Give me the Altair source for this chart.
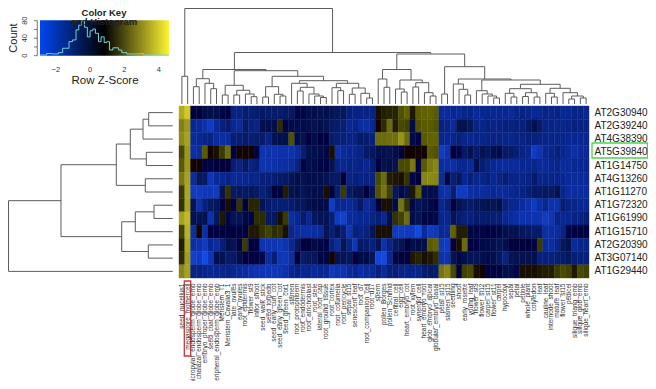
import json
import altair as alt
import pandas as pd

row_names = ["AT2G30940","AT2G39240","AT4G38390","AT5G39840","AT1G14750","AT4G13260","AT1G11270",
             "AT1G72320","AT1G61990","AT1G15710","AT2G20390","AT3G07140","AT1G29440"]
col_names = ["seed_nucellus1","megaspore_mothercell","micropylar_endosperm_globe_emb","chalazal_endosperm_globe_emb",
 "embryo_proper_globe_emb","seed_coat_globe_emb","peripheral_endosperm_globe_emb","Meristem_T1","Meristem_Cavalia3_1",
 "late_ovules","early_ovules","root_epidermis","flower_st9","inflor_shoot","seed_walk_stick","seed_torpedo",
 "seed_early_curl_cot","seed_early_green_cot","seed_green_cot1","stamen","root_protophloem","root_endodermis",
 "root_atrichoblast","root_stele","lateral_root_cap","root_ground_tissue","root_cortex","root_columella","root_pericycle",
 "sepal_st15","senescent_leaf","root_d7","root_companion_cell","root_d17","sperm","pollen_Borges","pollen_Schmid",
 "central_cell","egg_cell","heart_embryo_cot","root_xylem","synergid_cell","heart_embryo_root","glob_embryo_apical",
 "globular_embryo_basal","petal_st15","stamen_st15","seedling","shoot","early_rosette","young_leaf","flower_st9",
 "flower_st12","carpel_st15","flower_st11","carpel","hypocotyl","sepal","petal","petiole","whole_plant","cotyledon",
 "leaf","cauline_leaf","internode_shoot","mature_leaf","flower_st15","pedicel","silique_triang_emb","silique_glob_emb",
 "silique_heart_emb"]

r0 = [3.4,4.0, 0.6,0.6,0,-0.1,-0.2,0.2,0.4, -1,-1,-0.8,-0.8,-0.7, -0.6,-0.7,-0.7,-0.7,-0.6,-0.6, 0.2,0.2, -0.2,-0.2,-0.3,-0.2, -0.4,-0.5,-0.5, -0.9,-1,-1,-1,-1,
      0.8,1.0,1.1,1.1,1.7,1.9,0.9,1.8,1.9,1.9,1.8,
      -1.3,-1.3,-1.2,-1.3,-1.1,-1.0,-1.3,-1.2,-1.1,-1.2,-1.2,-1.2,-1.3,-1.1,-1,-1.1,-1.2,-1.2,-1.0,-1.1,-1.0,-1.2,-1.2,-1.0,-1.1,-1.2]
r1 = [2.5,3.0, -1.2,-1.3,-1.6,-2.0,-1.3,-0.9,-0.7, -1.2,-1.3,-0.7,-0.9,-1.0, -0.2,-0.2,-0.1,1.2,0.3,0.0, 0,0, -0.2,-0.3,-0.2,-0.3, -0.6,-0.7,-0.8, -1.2,-1.1,-1.4,-1.5,-1.2,
      0.7,1.2,2.0,1.0,1.6,1.5,0.0,1.7,1.8,1.8,1.7,
      -0.9,-1.0,-1.3,-0.3,-0.3,-0.5,-1.0,-1.1,-0.9,-1,-1,-0.9,-0.9,-0.9,-0.9,-0.6,-0.2,-0.7,-1,-1,-1.1,-1.1,-1,-0.9,-1,-1]
r2 = [2.7,3.2, -1.3,-1.2,-1,-1,-1.4,-1.5,-1.4, -0.8,-0.8,-0.7,-0.8,-0.7, -0.7,-1,-0.3,-0.2,-0.2,1.7, 0,-0.3, 0.4,-0.1,0.4,0.4, -0.7,-0.8,-0.9, -1,-1,-0.6,-0.7,-0.9,
      2.0,2.0,2.1,2.1,2.9,2.0,0,0.3,1.8,1.9,1.9,
      -1.1,-1.2,-1.1,-0.9,-1.1,-1.2,-1.1,-1.1,-1,-1,-1,-1.1,-1.1,-1,-1,-0.9,-0.9,-1,-1.1,-1.1,-1.1,-1.1,-1.2,-1.2,-1.2,-1.2]
r3 = [1.6,3.0, -1.5,-1.4,1.8,0.7,0.8,1.4,2.0, 0.6,0.7,0.7,0.7,0.5, -1.7,-1.7,-1.7,-1.6,-1.6,-1.7, -1.4,-0.8, -0.2,-0.2,0,0.2, 0.8,-1.6,-1.3, -1.2,-1.2,-1,-0.6,-0.5,
      -0.2,-0.2,-0.3,-0.1,0.4,0.7,0.7,0.7,0.7,1.8,1.7,
      -2.0,-1.7,0.5,0.2,-0.6,-0.3,-0.7,-0.3,-0.5,-0.2,0,-0.6,-0.6,-0.8,-1.0,-1.1,-2.1,-1.7,-1.2,-1.1,-0.9,-1.1,-1.3,-1.5,-1.3,-1.3]
r4 = [1.8,3.0, 0.7,0.7,0.4,0.3,0.5,0.6,0.6, -0.8,-1,-0.6,-1,-0.8, -1.7,-1.7,-1.6,-1.5,-1.5,-1.4, -1.0,0.2, -0.2,0,0.2,0.3, -0.3,-1.0,-1.2, -1.1,-1.1,-1,-1.2,-0.8,
      0.4,-0.3,-0.1,-0.3,1.6,1.6,2.3,0.4,1.8,2.3,2.6,
      -1.4,-1.5,-1.5,-1.2,-1.2,-1.3,-0.2,-0.8,-1.0,-1.2,-1.3,-1.4,-1.3,-1.3,-1.2,-1.2,-1.1,-1.3,-1.3,-1.2,-1.1,-1.3,-1.3,-1.2,-1.2,-1.2]
r5 = [2.3,3.2, -1.4,-0.5,-0.6,-1.8,-1.3,-1.2,-1.0, -1.3,-1.2,-1.2,-1.1,-1.1, -0.9,-0.9,-0.8,-0.7,-0.6,-0.4, -0.2,-0.3, -0.1,-0.2,-0.2,-0.3, -0.6,-0.6,0.6, -1,-0.9,-1,-1,-1.0,
      1.6,2.0,1.0,0.9,0.8,1.3,0.2,0.4,2.6,2.7,2.6,
      -1.4,0.1,-0.8,-0.5,-1.2,-0.9,-1.1,-1.1,-0.9,-1.2,-1,-0.8,-1,-1.1,-1.1,-1,-0.7,-1.1,-1.1,-1.1,-1.1,-1.2,-1.3,-1.4,-1.3,-1.3]
r6 = [1.4,3.3, -2,-2,-1.9,-1.9,-2,-0.3,1.3, -0.6,-0.5,-0.6,-0.5,-0.6, -0.9,-0.6,0.5,0.5,1.0,-0.3, -0.2,-0.4, -0.2,-0.1,-0.1,0.8, 0.5,-0.8,1.4, -0.6,-0.4,-0.3,0.5,-0.4,
      1.7,2.2,1.5,-0.5,0.1,-0.3,0.9,1.9,-0.1,0,-0.2,
      -1.5,-1.6,-0.8,-2,-2.0,-1.5,-1.4,-1.4,-1.3,-1.2,-1.3,-1.3,-1.2,-1.1,-1.0,-0.8,-0.6,-0.6,-0.5,-0.6,-0.3,-1.1,-1.4,-1.4,-1.4,-1.4]
r7 = [1.3,3.2, -0.4,-1.6,-0.9,-0.6,-0.5,0.5,0.8, 0.4,1.3,0.6,1.1,1.1, -0.4,-0.7,-0.8,-0.8,-0.8,-0.7, -0.5,-0.5, -0.2,0,0.1,0.0, -2.1,-1.2,-1.2, -1.3,-1.1,-0.6,-1.3,-1.0,
      0.5,0.8,0.8,0,2.2,1.3,0.1,-0.4,-0.2,0.1,0.3,
      -1.2,-0.9,0.3,-0.3,-0.6,-0.7,-0.5,-0.4,-0.3,-0.4,-0.2,-0.9,-1.1,-1.2,-1.4,-1.6,-2.0,-1.5,-1.2,-1.6,-1.6,-0.8,-1.0,-1.1,-1.2,-1.2]
r8 = [3.2,3.7, -0.3,-0.4,-0.3,-1.6,-0.5,0.9,0.2, -0.4,-0.4,0.1,0.3,1.2, 1.2,-0.6,-0.5,0.8,1.4,-1.5, -1.2,-0.7, -1.2,-0.5,-0.4,-0.4, -0.8,-2.1,-2.3, -1.4,-1.3,-1.2,-1.2,-1.0,
      -0.8,-1.2,-0.2,1.3,1.5,2.0,-0.1,-0.4,0.2,0.2,0.1,
      -1.1,-1.2,-0.4,-0.7,-0.9,-0.9,-0.7,-0.7,-0.7,-0.8,-0.8,-1.2,-1.3,-1.5,-1.7,-1.6,-1.7,-1.7,-2.0,-1.8,-1.1,-1.2,-1.2,-1.0,-1.0,-0.8]
r9 = [1.5,3.5, -1.5,0.7,-1.5,0.5,0.5,0.4,0.5, 0.4,0.3,0.5,0.9,0.9, 1.3,1.5,1.2,1.3,0.8,-1.1, -1.4,-1.5, -1.5,-1.4,-1.3,-0.4, -0.8,-0.4,-0.8, -1.8,-0.9,-1.0,-0.9,-0.4,
      0.8,0.8,0.8,-2,-2.1,-2,-2,-2.6,-1.3,-2.0,-1.9,
      -1.2,-1.3,1.9,1.0,1.0,0.2,0.2,0.2,0.4,0.3,0.2,-0.2,-0.3,-0.3,-0.5,-0.6,-0.7,-0.7,-1.5,-1.5,-1.4,-1.0,0.2,0.4,0.4,0.4]
r10 = [1.0,3.3, -1.5,-1.6,-2,-1.2,-1.4,-0.8,-0.2, -0.4,0.3,1.4,0.5,0.5, -1.7,-1.8,-1.8,-1.9,-1.7,-1.2, -0.6,0.4, 0.6,0,0.2,0.3, -0.9,-1.4,-0.4, -1.0,-1.8,-0.6,-0.7,-0.9,
       -0.4,-1.6,-1.0,-0.6,-0.4,0.3,-0.2,0,-0.1,1.8,1.9,
       -1.9,-2.1,0.6,0.8,2.0,0.4,0.3,0.1,0,-0.2,-0.4,-0.2,0.4,0.5,0.6,0.4,0.3,1.4,-1.3,-1.5,-1.1,-0.5,-0.3,-1.3,-1.1,-1.1]
r11 = [1.2,3.1, -2.2,-2.0,-2.7,-1.8,-0.2,-0.3,-0.7, -0.6,-0.1,0.4,0.3,0.3, 0.1,-1.4,-0.8,-1.8,-1.9,-1.5, 0.6,-0.7, -0.5,-0.5,0.2,0.2, 0.7,-0.3,-0.4, -0.5,0.4,0,0,-0.4,
       -2.5,-2.6,-1.2,0.2,0.6,0.5,0.9,1.1,0.8,0.9,1.2,
       -1.6,-1.7,-0.4,0.2,-0.2,-0.4,-0.4,-0.2,0,-0.2,-0.5,-1.0,-0.4,-0.3,-0.3,-0.3,-0.1,-0.9,-0.9,-0.9,-0.8,-0.7,-0.5,-0.8,-0.9,-0.9]
r12 = [2.6,3.2, -1.0,-1.0,-1.1,-1.2,-1.2,-1.1,-1, -1.2,-1.3,-1.4,-1.6,-1.7, -1.8,-1.9,-1.9,-1.8,-1.6,-1.2, -1.0,-1.2, -1.1,-1.3,-1.2,-1.2, -1.9,-1.7,-1.7, -1.3,-1.2,-1.5,-1.3,-1.3,
       -0.9,-1.3,-0.9,-0.8,-1.0,-1.1,-1.1,-1.1,-0.7,-0.6,-0.7,
       2.2,2.6,1.6,0.6,1.5,1.6,0.8,0.7,0.4,0.3,0.3,-0.1,-0.1,0.2,0.8,0.8,0.8,0.9,1.0,1.0,1.4,1.6,1.5,0.9,1.6,1.5]
rows = [r0,r1,r2,r3,r4,r5,r6,r7,r8,r9,r10,r11,r12]

# dendrograms: (merge height, left child, right child); integers are leaves
tree_top = (95.5,
  (27.7, 0, 1),
  (51.5,
    (34.5,
      (25.3, (17.3, 2, 3), (20.7, 4, (15.3, 5, 6))),
      (33.3,
        (18.7, (9, 7, 8), (13.7, (9, 9, 10), (10, 11, (7.3, 12, 13)))),
        (27.7,
          (17.3, (7, 14, 15), (9.7, 16, (8, 17, 18))),
          (23.3,
            (20.7, 19, (16.7, (13, 20, 21), (10, 22, (8, 23, (6.5, 24, 25))))),
            (20.7, (16.3, 26, (13.3, 27, 28)), (16, (9.7, 29, 30), (10.7, 31, (6, 32, 33)))))))),
    (50,
      (34.5,
        (25, 34, (16.7, 35, 36)),
        (24, (15, 37, (12, 38, 39)), (21.3, (17, 40, 41), (11.3, 42, (8, 43, 44))))),
      (37.3,
        (10, 45, 46),
        (25,
          (20, 47, (14.7, 48, (9, 49, 50))),
          (24,
            (13.3, 51, (10, 52, (8, 53, (6, 54, 55)))),
            (19.7,
              (15.3, (10.7, 56, (7, 57, 58)), (11.3, (7.5, 59, 60), (7, 61, 62))),
              (15.7, (10.7, 63, (7, 64, 65)), (11.3, 66, (8, (5, 67, 68), (6, 69, 70)))))))))))
tree_left = (164.2,
  (111.7,
    (56.4,
      (42.4, (29.7, (24, 0, 1), 2), (26.4, 3, 4)),
      (27.4, 5, 6)),
    (51,
      (37.4, (18.7, 7, 8), 9),
      (24.4, 10, 11))),
  12)

hist_edges = [-2.92,-2.53,-2.24,-1.85,-1.6,-1.42,-1.23,-1.03,-0.82,-0.66,-0.49,-0.33,-0.16,0,0.16,0.31,0.49,0.64,0.82,0.97,1.13,1.33,1.66,1.85,2.14,2.92,3.12,4.6]
hist_counts = [1.5,5,4,7,17,17,32,36,59,70,79,65,43,57,61,51,32,43,30,32,13,18,13,7,4,5,1.5,1.5]
key_x_ticks = [-2,0,2,4]
key_y_labels = [0,40,80]
key_y_ticks = [0,20,40,60,80]

assert all(len(r) == len(col_names) for r in rows), [len(r) for r in rows]

def segments(node, out):
    if isinstance(node, int):
        return node + 0.5, 0
    h, a, b = node
    pa, ha = segments(a, out)
    pb, hb = segments(b, out)
    out.append(dict(p=pa, p2=pb, h=h, h2=h))
    out.append(dict(p=pa, p2=pa, h=ha, h2=h))
    out.append(dict(p=pb, p2=pb, h=hb, h2=h))
    return (pa + pb) / 2, h

top_seg, left_seg = [], []
segments(tree_top, top_seg)
segments(tree_left, left_seg)
top_df, left_df = pd.DataFrame(top_seg), pd.DataFrame(left_seg)

cells = pd.DataFrame([dict(row=row_names[i], col=j, v=v) for i, r in enumerate(rows) for j, v in enumerate(r)])
color_scale = alt.Scale(domain=[-2.9, -1.3, -0.3, 0.7, 2.0, 4.6],
                        range=["#0f50f0", "#0a2a9a", "#04124f", "#000000", "#6b6a10", "#f5e62a"])

heat = alt.Chart(cells).mark_rect(strokeWidth=0.4).encode(
    x=alt.X("col:O", title=None, scale=alt.Scale(paddingInner=0, paddingOuter=0),
            axis=alt.Axis(labelExpr=json.dumps(col_names) + "[datum.value]", labelAngle=270, labelFontSize=6.5,
                          labelPadding=5, labelOverlap=False, labelLimit=300, ticks=False, domain=False,
                          labelColor="#333333", labelFont="Liberation Sans")),
    y=alt.Y("row:N", title=None, sort=row_names, scale=alt.Scale(paddingInner=0, paddingOuter=0),
            axis=alt.Axis(orient="right", labelFontSize=10, labelPadding=5, ticks=False, domain=False,
                          labelOverlap=False, labelColor="#222222", labelFont="Liberation Sans")),
    fill=alt.Fill("v:Q", scale=color_scale, legend=None),
    stroke=alt.Stroke("v:Q", scale=color_scale, legend=None),
)

DARK = "#5c5c5c"
top_dend = alt.Chart(top_df).mark_rule(color=DARK, strokeWidth=1).encode(
    x=alt.X("p:Q", axis=None, scale=alt.Scale(domain=[0, 71], range=[0, 410], nice=False, zero=False)),
    x2="p2:Q",
    y=alt.Y("h:Q", axis=None, scale=alt.Scale(domain=[0, 100], range=[-2, -102], nice=False, zero=False)),
    y2="h2:Q",
)
left_dend = alt.Chart(left_df).mark_rule(color=DARK, strokeWidth=1).encode(
    y=alt.Y("p:Q", axis=None, scale=alt.Scale(domain=[0, 13], range=[0, 172], nice=False, zero=False)),
    y2="p2:Q",
    x=alt.X("h:Q", axis=None, scale=alt.Scale(domain=[0, 100], range=[-6.3, -106.3], nice=False, zero=False)),
    x2="h2:Q",
)

one = pd.DataFrame({"a": [1]})
gradient = {"gradient": "linear", "x1": 0, "x2": 1, "y1": 0, "y2": 0,
            "stops": [{"offset": 0, "color": "#0046f0"}, {"offset": 0.5, "color": "#000000"}, {"offset": 1, "color": "#fff533"}]}
key_box = alt.Chart(one).mark_rect(fill=gradient).encode(
    x=alt.value(-139), x2=alt.value(-10), y=alt.value(-85.8), y2=alt.value(-50.3))

kx = lambda f: alt.X(f, axis=None, scale=alt.Scale(domain=[-2.92, 4.6], range=[-139, -10], nice=False, zero=False))
ky = lambda f: alt.Y(f, axis=None, scale=alt.Scale(domain=[0, 80], range=[-50.3, -85.3], nice=False, zero=False))

hist = alt.Chart(pd.DataFrame({"e": hist_edges, "c": hist_counts})).mark_line(
    interpolate="step-after", color="#6fd6d2", strokeWidth=1).encode(x=kx("e:Q"), y=ky("c:Q"))

xtick_txt = alt.Chart(pd.DataFrame({"t": key_x_ticks})).mark_text(fontSize=7.5, color="#333333", font="Liberation Sans").encode(
    x=kx("t:Q"), y=alt.value(-36.5), text="t:Q")
ytick_txt = alt.Chart(pd.DataFrame({"t": key_y_labels})).mark_text(fontSize=7.5, angle=270, color="#333333", font="Liberation Sans").encode(
    x=alt.value(-154), y=ky("t:Q"), text="t:Q")
ytick = alt.Chart(pd.DataFrame({"t": key_y_ticks})).mark_rule(color="#555555", strokeWidth=0.8).encode(
    x=alt.value(-145), x2=alt.value(-141.7), y=ky("t:Q"))
yline = alt.Chart(pd.DataFrame({"t": [0, 80]})).mark_line(color="#555555", strokeWidth=0.8).encode(
    x=alt.value(-141.7), y=ky("t:Q"))

def label(text, x, y, size, bold=False, angle=0):
    return alt.Chart(pd.DataFrame({"t": [text]})).mark_text(
        fontSize=size, fontWeight="bold" if bold else "normal", angle=angle, color="#222222", font="Liberation Sans"
    ).encode(x=alt.value(x), y=alt.value(y), text="t:N")

title1 = label("Color Key", -75, -93, 9.5, bold=True)
title2 = label("and Histogram", -75, -84, 9.5, bold=True)
xlabel = label("Row Z-Score", -74, -25.5, 11.5)
ylabel = label("Count", -165, -68, 11, angle=270)

red_box = alt.Chart(one).mark_rect(fill=None, stroke="#c8383c", strokeWidth=1.3).encode(
    x=alt.value(5.3), x2=alt.value(11.7), y=alt.value(175), y2=alt.value(250))
green_box = alt.Chart(one).mark_rect(fill=None, stroke="#4fd24f", strokeWidth=1.3).encode(
    x=alt.value(413), x2=alt.value(468.5), y=alt.value(37), y2=alt.value(52))

chart = alt.layer(
    heat, top_dend, left_dend, key_box, hist, xtick_txt, ytick_txt, ytick, yline,
    title1, title2, xlabel, ylabel, red_box, green_box
).resolve_scale(x="independent", y="independent", fill="independent", stroke="independent").properties(
    width=410, height=172, autosize=alt.AutoSizeParams(type="none"),
    padding={"left": 171, "top": 98, "right": 59, "bottom": 103},
    background="white",
).configure_view(stroke=None)

chart.save("out.html", embed_options={"renderer": "svg", "actions": False})
